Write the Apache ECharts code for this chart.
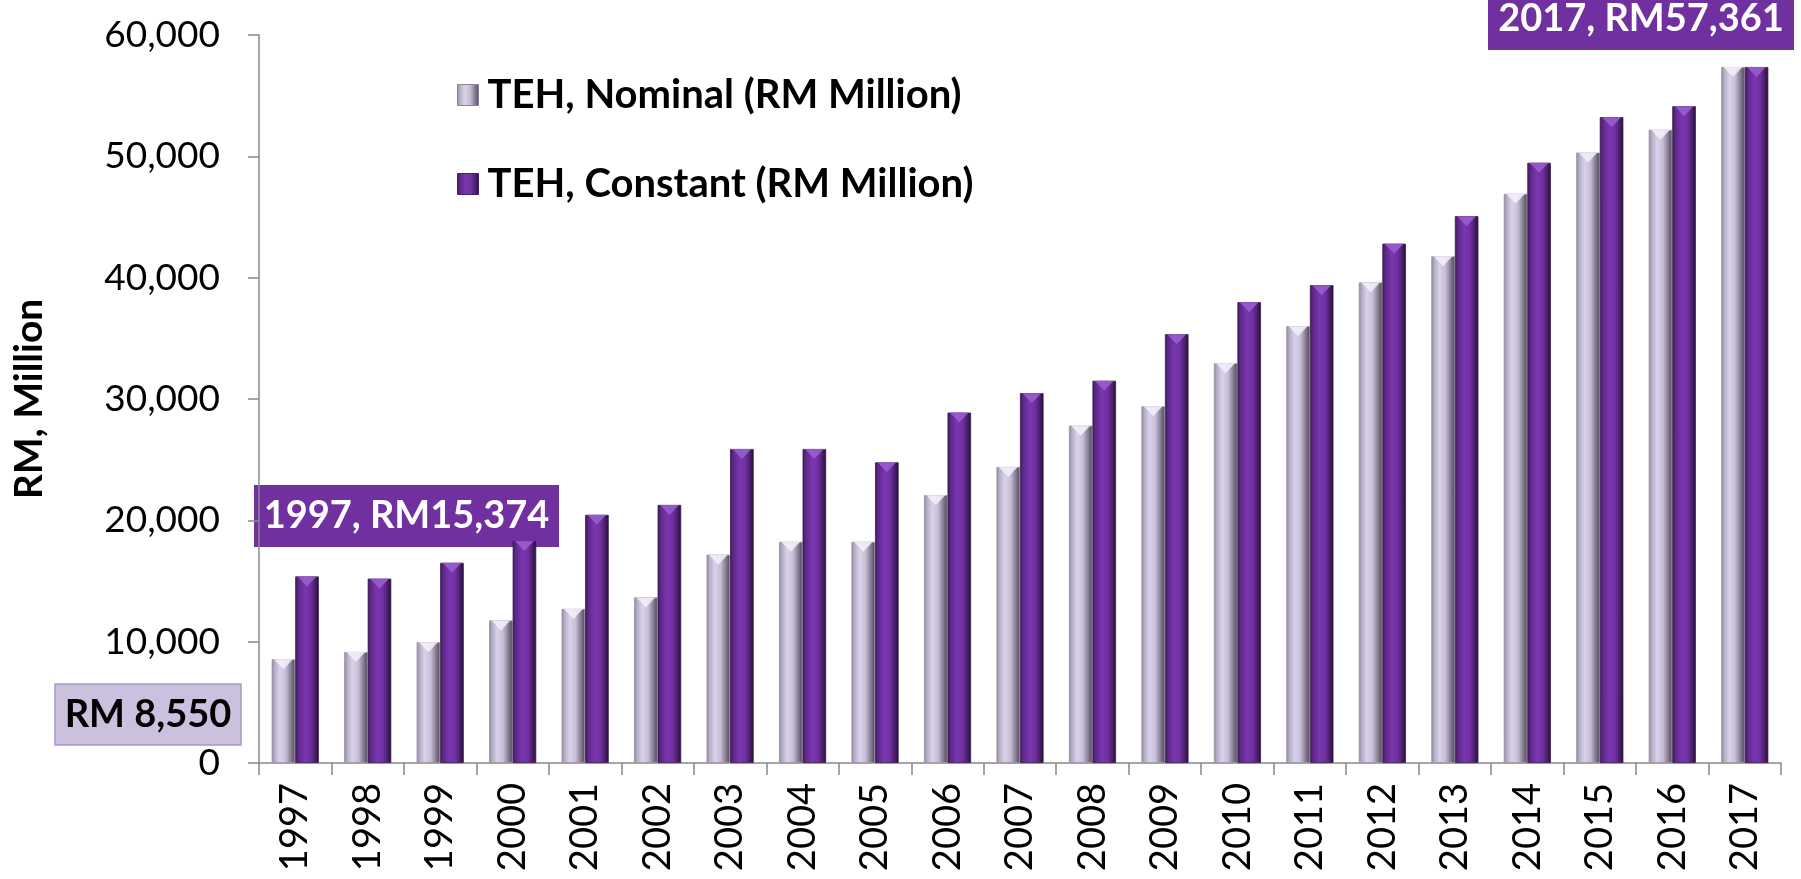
<!DOCTYPE html>
<html><head><meta charset="utf-8">
<script src="https://cdn.jsdelivr.net/npm/echarts@6/dist/echarts.min.js"></script>
<style>html,body{margin:0;padding:0;background:#fff}#c{width:1801px;height:879px}</style>
</head><body><div id="c"></div>
<script>
const categories = ['1997','1998','1999','2000','2001','2002','2003','2004','2005','2006','2007','2008','2009','2010','2011','2012','2013','2014','2015','2016','2017'];
const nominal = [8550, 9150, 9950, 11750, 12700, 13650, 17170, 18230, 18230, 22070, 24400, 27800, 29400, 32940, 36000, 39610, 41760, 46910, 50310, 52190, 57361];
const constant = [15374, 15195, 16500, 18300, 20450, 21270, 25880, 25880, 24780, 28880, 30480, 31500, 35340, 37980, 39380, 42800, 45070, 49470, 53230, 54130, 57361];
const seriesNames = ['TEH, Nominal (RM Million)', 'TEH, Constant (RM Million)'];
const yMin = 0, yMax = 60000, yStep = 10000;
const yAxisTitle = 'RM, Million';

const FONT = 'Lato, "Open Sans", sans-serif';
const fmt = v => v.toLocaleString('en-US');

const nominalFill = new echarts.graphic.LinearGradient(0,0,1,0,[
  {offset:0,color:'#8c8498'},{offset:0.12,color:'#b4abc4'},{offset:0.35,color:'#dad2ea'},
  {offset:0.6,color:'#c6bdd6'},{offset:0.82,color:'#867d92'},{offset:1,color:'#4c4654'}]);
const constantFill = new echarts.graphic.LinearGradient(0,0,1,0,[
  {offset:0,color:'#3a1856'},{offset:0.12,color:'#5c2786'},{offset:0.4,color:'#7a36b0'},
  {offset:0.65,color:'#7030a0'},{offset:0.85,color:'#481e69'},{offset:1,color:'#22102e'}]);

const chart = echarts.init(document.getElementById('c'), null, {renderer:'canvas'});
const last = categories.length - 1;
const note1 = `${categories[0]}, RM${fmt(constant[0])}`;
const note2 = `${categories[last]}, RM${fmt(constant[last])}`;
const note3 = `RM ${fmt(nominal[0])}`;

function box(x, y, w, h, text, fill, stroke, color) {
  return {
    type:'group', z:100,
    children:[
      {type:'rect', shape:{x:x, y:y, width:w, height:h}, style:{fill:fill, stroke:stroke||null, lineWidth:stroke?1.5:0}},
      {type:'text', x:x+w/2, y:y+h/2, style:{text:text, fill:color, font:`bold 38px ${FONT}`, align:'center', verticalAlign:'middle'}}
    ]
  };
}

function bevel(data, color) {
  return {type:'pictorialBar', data:data, barGap:'0%', barCategoryGap:'35%', z:5,
    symbol:'triangle', symbolRotate:180, symbolSize:['80%', 10], symbolPosition:'end',
    symbolOffset:[0, 0], silent:true, itemStyle:{color:color, opacity:0.85}};
}

chart.setOption({
  animation:false,
  backgroundColor:'#ffffff',
  grid:{left:259, right:20, top:35, bottom:116, containLabel:false},
  legend:{
    orient:'vertical', left:457, top:75, padding:0,
    itemWidth:21, itemHeight:21, itemGap:49,
    textStyle:{fontFamily:FONT, fontWeight:'bold', fontSize:40, color:'#000', lineHeight:40, padding:[0,0,0,4]},
    data:[
      {name:seriesNames[0], icon:'rect', itemStyle:{color:nominalFill, borderColor:'#8a8296', borderWidth:1}},
      {name:seriesNames[1], icon:'rect', itemStyle:{color:constantFill, borderColor:'#4a2070', borderWidth:1}}
    ]
  },
  xAxis:{
    type:'category', data:categories,
    axisLine:{lineStyle:{color:'#888888', width:1.5}},
    axisTick:{show:true, length:12, lineStyle:{color:'#888888', width:1.5}},
    axisLabel:{rotate:90, margin:20, fontFamily:FONT, fontSize:38, color:'#000'}
  },
  yAxis:{
    type:'value', min:yMin, max:yMax, interval:yStep,
    name:yAxisTitle, nameLocation:'middle', nameRotate:90, nameGap:210,
    nameTextStyle:{fontFamily:FONT, fontWeight:'bold', fontSize:39, color:'#000'},
    axisLine:{show:true, lineStyle:{color:'#888888', width:1.5}},
    axisTick:{show:true, length:11, lineStyle:{color:'#888888', width:1.5}},
    splitLine:{show:false},
    axisLabel:{margin:39, fontFamily:FONT, fontSize:37, color:'#000', formatter:v=>fmt(v)}
  },
  series:[
    {name:seriesNames[0], type:'bar', data:nominal, barGap:'0%', barCategoryGap:'35%',
     itemStyle:{color:nominalFill, borderColor:'#9a93a4', borderWidth:0.8}},
    {name:seriesNames[1], type:'bar', data:constant, barGap:'0%', barCategoryGap:'35%',
     itemStyle:{color:constantFill, borderColor:'#3a1a52', borderWidth:0.8}},
    bevel(nominal, '#f4f0fb'),
    bevel(constant, '#9b5fd0')
  ],
  graphic:[
    box(254, 485, 305, 62, note1, '#7030a0', null, '#ffffff'),
    box(1488, -12, 306, 62, note2, '#7030a0', null, '#ffffff'),
    box(55, 684, 186, 61, note3, '#cbc0de', '#a898c8', '#000000')
  ]
});
</script></body></html>
